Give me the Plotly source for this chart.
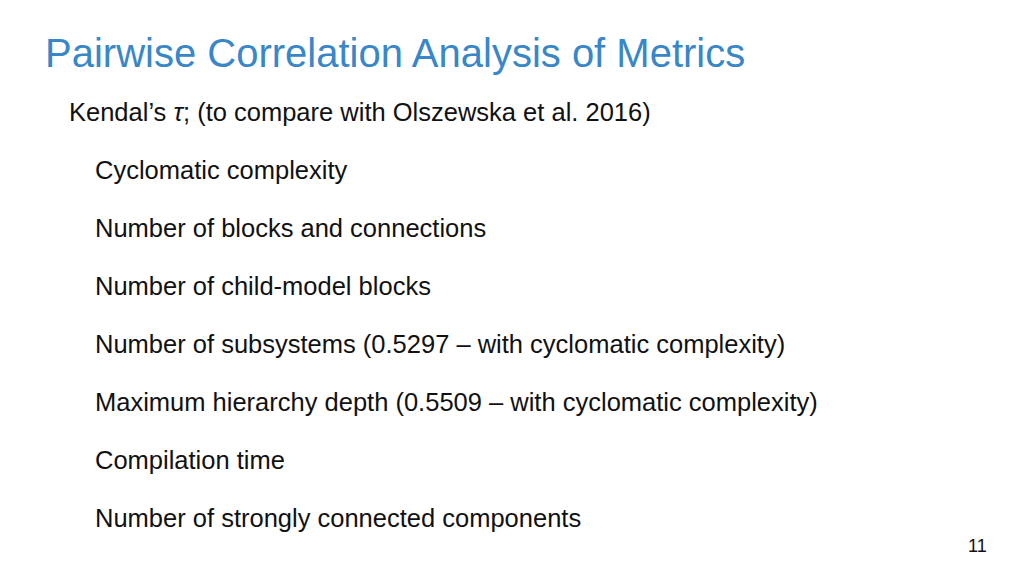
import plotly.graph_objects as go

title = "Pairwise Correlation Analysis of Metrics"
subtitle = "Kendal’s <i>τ</i>; (to compare with Olszewska et al. 2016)"
items = [
    "Cyclomatic complexity",
    "Number of blocks and connections",
    "Number of child-model blocks",
    "Number of subsystems (0.5297 – with cyclomatic complexity)",
    "Maximum hierarchy depth (0.5509 – with cyclomatic complexity)",
    "Compilation time",
    "Number of strongly connected components",
]
page = "11"

W, H = 1024, 576
F = "Liberation Sans, Arial, sans-serif"
fig = go.Figure()
ann = []
def add(text, x, y, size, color="#111111", xanchor="left"):
    ann.append(dict(text=text, x=x / W, y=1 - y / H, xref="paper", yref="paper",
                    xanchor=xanchor, yanchor="middle", showarrow=False,
                    borderpad=0,
                    font=dict(family=F, size=size, color=color)))
add(title, 36, 45, 40, "#3a87c8")
add(subtitle, 60, 104, 25.5)
for i, t in enumerate(items):
    add(t, 86, 162 + i * 58, 25.5)
add(page, 980, 538, 18, xanchor="right")
fig.update_layout(width=W, height=H, margin=dict(l=0, r=0, t=0, b=0),
                  plot_bgcolor="white", paper_bgcolor="white",
                  xaxis=dict(visible=False), yaxis=dict(visible=False),
                  annotations=ann)
fig.write_html("out.html")
